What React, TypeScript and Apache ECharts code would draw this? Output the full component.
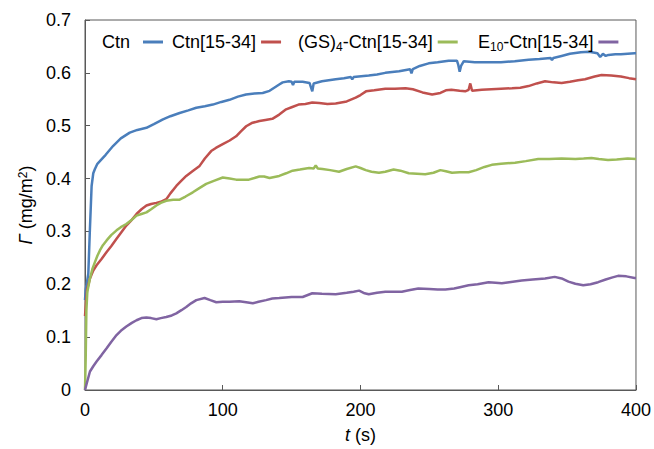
import React, { useEffect, useRef } from "react";
import * as echarts from "echarts";

const seriesNames = ["Ctn", "Ctn[15-34]", "(GS)4-Ctn[15-34]", "E10-Ctn[15-34]"];
const seriesColors = ["#4a7ebb", "#c0504d", "#9bbb59", "#8064a2"];
const legendLefts = [97, 167, 293, 473];

const ctnData: [number, number][] = [
  [0, 0.17], [0.5, 0.19], [1.2, 0.2], [2.4, 0.22], [3.5, 0.3], [4.8, 0.386], [6, 0.41], [7.2, 0.418], [9, 0.428],
  [10.8, 0.433], [15, 0.445], [20.5, 0.462], [26, 0.476], [32.5, 0.487], [38, 0.492], [44.6, 0.496], [50, 0.503],
  [56.6, 0.512], [62, 0.518], [68.7, 0.524], [75, 0.529], [80.8, 0.534], [87, 0.537], [92.8, 0.54], [99, 0.545],
  [104.9, 0.549], [111, 0.555], [116.9, 0.559], [123, 0.561], [129, 0.562], [134, 0.566], [141, 0.578],
  [143.5, 0.582], [148, 0.584], [150, 0.583], [151, 0.577], [152, 0.583], [158, 0.583], [163, 0.581],
  [165, 0.565], [166, 0.58], [172, 0.584], [182, 0.588], [188, 0.59], [193, 0.592], [194, 0.588], [195, 0.592],
  [206, 0.595], [212, 0.597], [218, 0.6], [228, 0.603], [236, 0.607], [237, 0.599], [238, 0.607], [243, 0.613],
  [249.5, 0.618], [256, 0.62], [264, 0.623], [270, 0.623], [271, 0.615], [272, 0.602], [273, 0.613], [275, 0.622],
  [283, 0.62], [292, 0.62], [302, 0.62], [312, 0.622], [322, 0.625], [330, 0.626], [338, 0.628], [339, 0.624],
  [340, 0.628], [346, 0.632], [352, 0.636], [360, 0.639], [366, 0.64], [372, 0.637], [374, 0.63], [376, 0.636],
  [378, 0.632], [380, 0.634], [385, 0.635], [389, 0.635], [394, 0.636], [399, 0.637], [400, 0.637],
];

const ctn1534Data: [number, number][] = [
  [0, 0.14], [0.7, 0.165], [1.5, 0.19], [3.6, 0.211], [6, 0.226], [8.4, 0.236], [12, 0.248], [15.7, 0.261],
  [19, 0.272], [22.9, 0.286], [26, 0.297], [30, 0.311], [34, 0.322], [37.4, 0.333], [41, 0.342], [44.6, 0.349],
  [48, 0.352], [51.8, 0.354], [55, 0.356], [59, 0.361], [62, 0.372], [66.3, 0.386], [70, 0.396], [73.5, 0.405],
  [78, 0.414], [83.2, 0.424], [87, 0.438], [91.6, 0.452], [95, 0.458], [100, 0.465], [105, 0.472], [109.7, 0.48],
  [113, 0.489], [117, 0.499], [121, 0.505], [126.6, 0.509], [131, 0.511], [136, 0.513], [141, 0.521], [146, 0.531],
  [150, 0.535], [155, 0.54], [160, 0.541], [165, 0.544], [170, 0.543], [176, 0.541], [182, 0.542], [190, 0.546],
  [196.5, 0.553], [200, 0.558], [204, 0.565], [210, 0.567], [218, 0.57], [225, 0.57], [232.7, 0.571], [238, 0.569],
  [245, 0.563], [252, 0.559], [258, 0.562], [262, 0.567], [266, 0.568], [272, 0.566], [276, 0.565], [278.5, 0.568],
  [279.7, 0.58], [281, 0.566], [288, 0.568], [295, 0.569], [302, 0.57], [310, 0.571], [316, 0.572], [322, 0.575],
  [328, 0.58], [334, 0.584], [340, 0.582], [346, 0.581], [352, 0.583], [358, 0.586], [363, 0.588], [370, 0.593],
  [375, 0.596], [382, 0.595], [389, 0.593], [395, 0.59], [400, 0.588],
];

const gs4Data: [number, number][] = [
  [0, 0.0], [0.5, 0.06], [1, 0.15], [1.7, 0.186], [3.6, 0.211], [5.5, 0.23], [7.2, 0.242], [9, 0.254],
  [10.8, 0.264], [13, 0.274], [15.7, 0.283], [19, 0.293], [22.9, 0.302], [26, 0.308], [30, 0.314], [34, 0.322],
  [37.4, 0.33], [41, 0.333], [44.6, 0.336], [48, 0.342], [51.8, 0.349], [55, 0.354], [59, 0.358], [64, 0.36],
  [68.7, 0.36], [73, 0.366], [78.3, 0.374], [83, 0.382], [88, 0.39], [94, 0.396], [100, 0.402], [105, 0.4],
  [109.7, 0.398], [114, 0.398], [119, 0.398], [123, 0.401], [126.6, 0.404], [130, 0.404], [134, 0.401],
  [141, 0.405], [146, 0.41], [150.7, 0.415], [156, 0.417], [162.7, 0.42], [166, 0.419], [167.5, 0.425],
  [169, 0.419], [172.4, 0.418], [178, 0.416], [184.4, 0.413], [190, 0.418], [196.5, 0.423], [200, 0.42],
  [203.8, 0.416], [208, 0.413], [213.4, 0.411], [218, 0.413], [224, 0.417], [229, 0.415], [235, 0.41],
  [241, 0.409], [247, 0.408], [253, 0.411], [258, 0.416], [262, 0.414], [266.4, 0.411], [272, 0.412],
  [278.5, 0.412], [284, 0.416], [290, 0.422], [295.3, 0.426], [302, 0.428], [312.2, 0.43], [320, 0.433],
  [329, 0.437], [337, 0.437], [346, 0.438], [356, 0.437], [362, 0.438], [367.7, 0.439], [373, 0.437],
  [379.7, 0.435], [386, 0.436], [394, 0.438], [400, 0.437],
];

const e10Data: [number, number][] = [
  [0, 0], [1.5, 0.015], [3.6, 0.035], [6, 0.045], [8.4, 0.054], [12, 0.066], [15.7, 0.079], [19, 0.091],
  [22.9, 0.104], [26, 0.112], [30, 0.12], [34, 0.127], [37.4, 0.132], [41, 0.136], [44.6, 0.137], [48, 0.136],
  [51.8, 0.134], [55, 0.136], [59, 0.138], [63, 0.141], [66.3, 0.145], [70, 0.151], [73.5, 0.157], [77, 0.164],
  [80.8, 0.17], [86.8, 0.174], [91, 0.17], [95.3, 0.166], [100, 0.167], [104.9, 0.167], [112, 0.168],
  [117, 0.166], [121.8, 0.164], [126, 0.167], [131.4, 0.17], [136, 0.173], [141, 0.174], [150, 0.176],
  [158, 0.176], [165, 0.183], [172, 0.182], [182, 0.181], [190, 0.184], [195, 0.186], [199, 0.188], [203, 0.183],
  [206, 0.181], [212, 0.184], [218, 0.186], [224, 0.186], [230, 0.186], [236, 0.189], [242, 0.192], [250, 0.191],
  [256, 0.19], [261.6, 0.19], [268, 0.192], [273, 0.195], [278.5, 0.198], [285, 0.2], [293, 0.204], [298, 0.203],
  [302.6, 0.202], [308, 0.204], [317, 0.207], [325, 0.209], [334, 0.211], [341, 0.214], [346, 0.211],
  [351, 0.205], [356, 0.201], [361.7, 0.198], [367, 0.2], [372.5, 0.204], [378, 0.209], [383, 0.213],
  [387, 0.216], [393, 0.215], [399, 0.212], [400, 0.212],
];

const allData = [ctnData, ctn1534Data, gs4Data, e10Data];

const FONT = "Liberation Sans, Arial, sans-serif";

function legendLabel(name: string): string {
  if (name === "Ctn") return "{c|Ctn}";
  if (name === "(GS)4-Ctn[15-34]") return "{n|(GS)}{s|4}{n|-Ctn[15-34]}";
  if (name === "E10-Ctn[15-34]") return "{n|E}{s|10}{n|-Ctn[15-34]}";
  return "{n|" + name + "}";
}

export default function App() {
  const ref = useRef<HTMLDivElement>(null);
  useEffect(() => {
    if (!ref.current) return;
    const chart = echarts.init(ref.current, undefined, { renderer: "svg" });
    const axisColor = "#595959";
    const legends = seriesNames.map((name, i) => ({
      left: legendLefts[i],
      top: 28,
      orient: "horizontal",
      align: "right",
      icon: "rect",
      itemWidth: 20,
      itemHeight: 3,
      data: [name],
      formatter: legendLabel,
      textStyle: {
        fontFamily: FONT,
        fontSize: 18,
        color: "#000",
        rich: {
          n: { fontFamily: FONT, fontSize: 18, color: "#000", lineHeight: 22 },
          c: { fontFamily: FONT, fontSize: 18, color: "#000", lineHeight: 22, padding: [0, 8, 0, 0] },
          s: { fontFamily: FONT, fontSize: 12, color: "#000", verticalAlign: "bottom" },
        },
      },
    }));
    chart.setOption({
      animation: false,
      backgroundColor: "#ffffff",
      textStyle: { fontFamily: FONT },
      grid: {
        left: 85,
        right: 16,
        top: 20,
        bottom: 57,
        show: true,
        borderColor: axisColor,
        borderWidth: 1,
      },
      legend: legends,
      xAxis: {
        type: "value",
        min: 0,
        max: 400,
        interval: 100,
        name: "{i|t} (s)",
        nameLocation: "middle",
        nameGap: 36,
        nameTextStyle: {
          fontFamily: FONT,
          fontSize: 18,
          color: "#000",
          rich: {
            i: { fontFamily: FONT, fontSize: 18, fontStyle: "italic", color: "#000" },
          },
        },
        axisLine: { show: true, lineStyle: { color: axisColor, width: 1 } },
        axisTick: { show: true, inside: true, length: 5, lineStyle: { color: axisColor } },
        axisLabel: { fontFamily: FONT, fontSize: 18, color: "#000", margin: 11 },
        splitLine: { show: false },
      },
      yAxis: {
        type: "value",
        min: 0,
        max: 0.7,
        interval: 0.1,
        name: "{i|Γ} (mg/m{sup|2})",
        nameLocation: "middle",
        nameGap: 44,
        nameRotate: 90,
        nameTextStyle: {
          fontFamily: FONT,
          fontSize: 18,
          color: "#000",
          rich: {
            i: { fontFamily: FONT, fontSize: 18, fontStyle: "italic", color: "#000" },
            sup: { fontFamily: FONT, fontSize: 12, color: "#000", verticalAlign: "top" },
          },
        },
        axisLine: { show: true, lineStyle: { color: axisColor, width: 1 } },
        axisTick: { show: true, inside: true, length: 5, lineStyle: { color: axisColor } },
        axisLabel: {
          fontFamily: FONT,
          fontSize: 18,
          color: "#000",
          margin: 14,
          formatter: (v: number) => (v === 0 ? "0" : v.toFixed(1)),
        },
        splitLine: { show: false },
      },
      series: seriesNames.map((name, i) => ({
        name,
        type: "line",
        data: allData[i],
        showSymbol: false,
        symbol: "none",
        color: seriesColors[i],
        lineStyle: { color: seriesColors[i], width: 2.5 },
      })),
    });
    return () => chart.dispose();
  }, []);
  return <div ref={ref} style={{ width: 654, height: 449, position: "absolute", left: 0, top: 0 }} />;
}
